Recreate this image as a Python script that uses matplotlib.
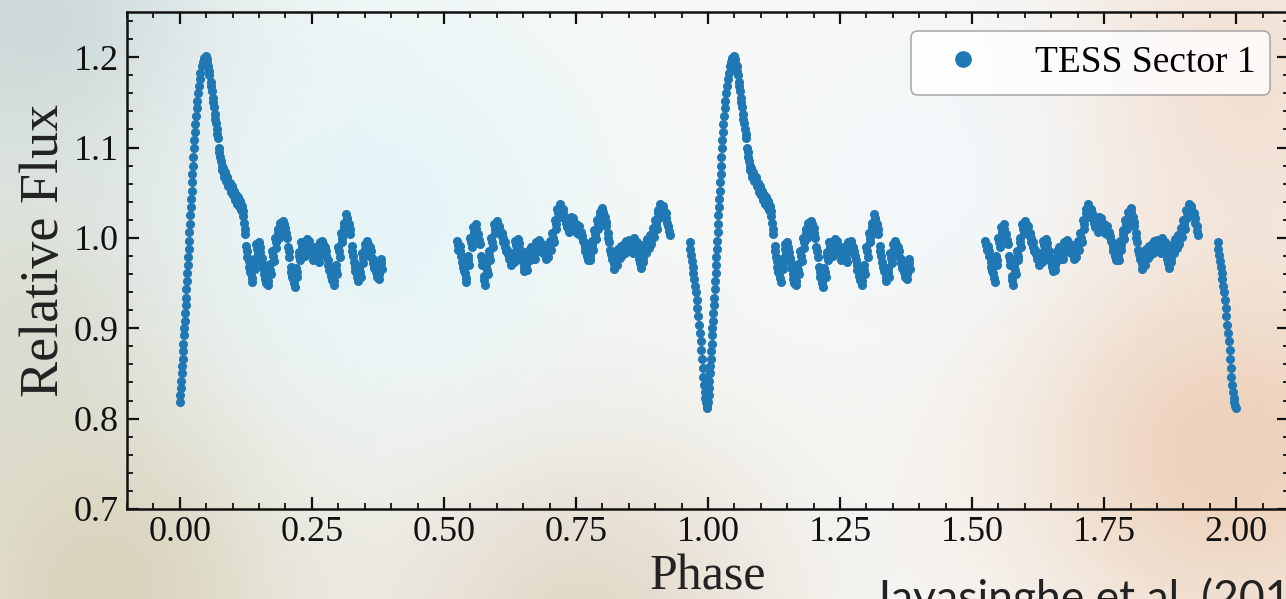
import numpy as np
import matplotlib
matplotlib.use("Agg")
import matplotlib.pyplot as plt
from matplotlib.ticker import MultipleLocator

# ---- one cycle of the folded light curve (repeated at phase + 1) ----
# steep rise out of minimum: individual cadences
rise_phase = [0.0005, 0.0010, 0.0018, 0.0025, 0.0035, 0.0042, 0.0050, 0.0060, 0.0068, 0.0075,
              0.0085, 0.0093, 0.0100, 0.0110, 0.0118, 0.0125, 0.0135, 0.0142, 0.0150, 0.0158,
              0.0165, 0.0175, 0.0182, 0.0190, 0.0198, 0.0206, 0.0214, 0.0222, 0.0230, 0.0238,
              0.0246, 0.0254, 0.0263, 0.0272, 0.0282, 0.0292, 0.0303, 0.0315, 0.0328, 0.0342,
              0.0356, 0.0372, 0.0390, 0.0410, 0.0430, 0.0450]
rise_flux = [0.818, 0.826, 0.834, 0.842, 0.850, 0.858, 0.866, 0.875, 0.883, 0.892,
             0.900, 0.908, 0.917, 0.926, 0.934, 0.943, 0.952, 0.961, 0.970, 0.979,
             0.988, 0.997, 1.006, 1.015, 1.025, 1.034, 1.043, 1.052, 1.062, 1.071,
             1.080, 1.090, 1.099, 1.108, 1.117, 1.126, 1.135, 1.144, 1.152, 1.160,
             1.168, 1.176, 1.183, 1.190, 1.195, 1.199]

# post-peak decline: upper edge, middle and lower edge of the point band
decay_hi_edges = (0.050, 0.126)
decay_mid_edges = (0.051, 0.127)
decay_lo_edges = (0.052, 0.128)
decay_hi = [1.201, 1.190, 1.173, 1.155, 1.137, 1.120, 1.100, 1.085, 1.077, 1.073,
            1.067, 1.061, 1.057, 1.052, 1.048, 1.045, 1.041, 1.035, 1.016, 0.991]
decay_mid = [1.198, 1.185, 1.168, 1.150, 1.132, 1.115, 1.095, 1.080, 1.072, 1.068,
             1.062, 1.056, 1.052, 1.047, 1.043, 1.040, 1.036, 1.030, 1.010, 0.985]
decay_lo = [1.194, 1.180, 1.163, 1.145, 1.127, 1.110, 1.090, 1.075, 1.067, 1.063,
            1.057, 1.051, 1.047, 1.042, 1.038, 1.035, 1.031, 1.024, 1.004, 0.979]

# first quiescent stretch
seg1_hi_edges = (0.13000, 0.38000)
seg1_mid_edges = (0.13125, 0.38125)
seg1_lo_edges = (0.13250, 0.38250)
seg1_hi = [0.974, 0.961, 0.977, 0.993, 0.995, 0.978, 0.960, 0.957, 0.971, 0.985,
           1.000, 1.010, 1.016, 1.019, 1.011, 0.990, 0.968, 0.955, 0.967, 0.984,
           0.995, 0.991, 0.999, 0.996, 0.987, 0.990, 0.984, 0.995, 0.997, 0.990,
           0.975, 0.963, 0.957, 0.970, 0.990, 1.005, 1.017, 1.026, 1.015, 0.991,
           0.973, 0.962, 0.967, 0.983, 0.993, 0.997, 0.990, 0.977, 0.967, 0.965, 0.977]
seg1_mid = [0.968, 0.956, 0.972, 0.988, 0.990, 0.972, 0.955, 0.952, 0.965, 0.980,
            0.995, 1.005, 1.012, 1.015, 1.005, 0.985, 0.962, 0.950, 0.962, 0.980,
            0.990, 0.985, 0.995, 0.990, 0.982, 0.985, 0.978, 0.990, 0.993, 0.985,
            0.970, 0.958, 0.952, 0.965, 0.985, 1.000, 1.012, 1.022, 1.010, 0.985,
            0.968, 0.957, 0.962, 0.978, 0.988, 0.993, 0.985, 0.972, 0.962, 0.960, 0.972]
seg1_lo = [0.962, 0.951, 0.966, 0.982, 0.984, 0.967, 0.950, 0.948, 0.960, 0.974,
           0.989, 1.000, 1.007, 1.010, 1.000, 0.979, 0.957, 0.946, 0.957, 0.975,
           0.984, 0.980, 0.990, 0.985, 0.976, 0.980, 0.973, 0.985, 0.987, 0.980,
           0.964, 0.953, 0.948, 0.960, 0.979, 0.995, 1.006, 1.017, 1.004, 0.980,
           0.963, 0.952, 0.957, 0.972, 0.983, 0.988, 0.979, 0.967, 0.957, 0.955, 0.966]

# second quiescent stretch
seg2_hi_edges = (0.52500, 0.92500)
seg2_mid_edges = (0.52625, 0.92625)
seg2_lo_edges = (0.52750, 0.92750)
seg2_hi = [0.997, 0.991, 0.973, 0.961, 0.980, 1.000, 1.012, 1.015, 1.004, 0.980,
           0.958, 0.970, 0.985, 1.000, 1.015, 1.019, 1.013, 1.005, 0.995, 0.987,
           0.980, 0.983, 0.997, 0.999, 0.986, 0.973, 0.975, 0.985, 0.990, 0.987,
           0.995, 0.998, 0.993, 0.987, 0.989, 0.997, 1.005, 1.020, 1.032, 1.037,
           1.032, 1.022, 1.017, 1.023, 1.022, 1.015, 1.013, 1.007, 0.995, 0.985,
           0.985, 0.997, 1.009, 1.020, 1.029, 1.033, 1.023, 1.005, 0.987, 0.976,
           0.980, 0.988, 0.991, 0.993, 0.997, 0.998, 0.993, 1.000, 0.995, 0.977,
           0.983, 0.993, 0.999, 1.003, 1.011, 1.020, 1.031, 1.037, 1.035, 1.027,
           1.013]
seg2_mid = [0.992, 0.985, 0.968, 0.956, 0.975, 0.995, 1.007, 1.010, 0.998, 0.975,
            0.953, 0.965, 0.980, 0.995, 1.010, 1.015, 1.008, 1.000, 0.990, 0.982,
            0.975, 0.978, 0.992, 0.994, 0.980, 0.968, 0.970, 0.980, 0.985, 0.982,
            0.990, 0.993, 0.988, 0.982, 0.984, 0.992, 1.000, 1.015, 1.028, 1.033,
            1.027, 1.017, 1.012, 1.018, 1.017, 1.010, 1.008, 1.002, 0.990, 0.980,
            0.980, 0.992, 1.004, 1.015, 1.025, 1.029, 1.018, 1.000, 0.982, 0.971,
            0.975, 0.983, 0.986, 0.988, 0.992, 0.993, 0.988, 0.995, 0.990, 0.972,
            0.978, 0.988, 0.994, 0.998, 1.006, 1.015, 1.027, 1.033, 1.030, 1.022,
            1.008]
seg2_lo = [0.987, 0.980, 0.963, 0.951, 0.970, 0.990, 1.002, 1.005, 0.993, 0.970,
           0.948, 0.960, 0.975, 0.990, 1.005, 1.010, 1.003, 0.995, 0.985, 0.977,
           0.970, 0.973, 0.987, 0.989, 0.975, 0.963, 0.965, 0.975, 0.980, 0.977,
           0.985, 0.988, 0.983, 0.977, 0.979, 0.987, 0.995, 1.010, 1.023, 1.028,
           1.022, 1.012, 1.007, 1.013, 1.012, 1.005, 1.003, 0.997, 0.985, 0.975,
           0.975, 0.987, 0.999, 1.010, 1.020, 1.024, 1.013, 0.995, 0.977, 0.966,
           0.970, 0.978, 0.981, 0.983, 0.987, 0.988, 0.983, 0.990, 0.985, 0.967,
           0.973, 0.983, 0.989, 0.993, 1.001, 1.010, 1.022, 1.028, 1.025, 1.017,
           1.003]

# drop into minimum: individual cadences
dip_phase = [0.9650, 0.9665, 0.9680, 0.9695, 0.9710, 0.9725, 0.9740, 0.9755, 0.9770, 0.9785,
             0.9800, 0.9815, 0.9830, 0.9845, 0.9860, 0.9875, 0.9888, 0.9900, 0.9912, 0.9925,
             0.9938, 0.9950, 0.9962, 0.9975, 0.9988]
dip_flux = [0.995, 0.988, 0.981, 0.974, 0.968, 0.961, 0.954, 0.947, 0.940, 0.931,
            0.922, 0.913, 0.904, 0.895, 0.886, 0.876, 0.866, 0.856, 0.846, 0.837,
            0.829, 0.823, 0.818, 0.814, 0.812]

n_cycles = 2
label = "TESS Sector 1"
credit = "Jayasinghe et al. (2019)"


def band(*rows):
    # rows: (edges, values) pairs, each evenly sampled between its edges
    ph = [np.linspace(e[0], e[1], len(v)) for e, v in rows]
    return np.concatenate(ph), np.concatenate([np.asarray(v) for _, v in rows])


def backdrop(fig):
    # soft stand-in for the photo behind the slide
    h, w = 120, 260
    yy, xx = np.mgrid[0:1:h * 1j, 0:1:w * 1j]
    img = np.ones((h, w, 3)) * np.array([0.97, 0.975, 0.97])
    blobs = [
        ((0.03, 0.05), 0.24, (0.80, 0.85, 0.85)),
        ((0.02, 0.55), 0.22, (0.85, 0.87, 0.83)),
        ((0.08, 0.98), 0.25, (0.85, 0.83, 0.74)),
        ((0.45, 1.05), 0.25, (0.89, 0.85, 0.79)),
        ((0.96, 0.75), 0.26, (0.93, 0.82, 0.73)),
        ((0.97, 0.15), 0.22, (0.95, 0.88, 0.83)),
        ((0.30, 0.35), 0.25, (0.90, 0.96, 0.97)),
        ((0.72, 0.30), 0.18, (0.95, 0.97, 0.98)),
    ]
    for (cx, cy), r, col in blobs:
        wgt = np.exp(-(((xx - cx) * 2.15) ** 2 + (yy - cy) ** 2) / (2 * r ** 2))[..., None]
        img = img * (1 - wgt) + np.array(col) * wgt
    bg = fig.add_axes([0, 0, 1, 1], zorder=-10)
    bg.imshow(img, extent=[0, 1, 0, 1], aspect="auto", interpolation="bicubic")
    bg.axis("off")


def main() -> None:
    plt.rcParams["font.family"] = "serif"
    plt.rcParams["font.serif"] = ["Liberation Serif", "DejaVu Serif"]

    pieces = [
        (np.array(rise_phase), np.array(rise_flux)),
        band((decay_hi_edges, decay_hi), (decay_mid_edges, decay_mid), (decay_lo_edges, decay_lo)),
        band((seg1_hi_edges, seg1_hi), (seg1_mid_edges, seg1_mid), (seg1_lo_edges, seg1_lo)),
        band((seg2_hi_edges, seg2_hi), (seg2_mid_edges, seg2_mid), (seg2_lo_edges, seg2_lo)),
        (np.array(dip_phase), np.array(dip_flux)),
    ]
    ph1 = np.concatenate([p for p, _ in pieces])
    fl1 = np.concatenate([f for _, f in pieces])
    phase = np.concatenate([ph1 + k for k in range(n_cycles)])
    flux = np.tile(fl1, n_cycles)

    fig = plt.figure(figsize=(12.86, 5.99), dpi=100)
    backdrop(fig)

    ax = fig.add_axes([0.0988, 0.1503, 0.9035, 0.8297])
    ax.set_facecolor("none")
    ax.plot(phase, flux, "o", ms=5.5, color="#1f77b4", lw=0, label=label)

    ax.set_xlim(-0.1, 2.1)
    ax.set_ylim(0.7, 1.25)
    ax.xaxis.set_major_locator(MultipleLocator(0.25))
    ax.xaxis.set_minor_locator(MultipleLocator(0.05))
    ax.yaxis.set_major_locator(MultipleLocator(0.1))
    ax.yaxis.set_minor_locator(MultipleLocator(0.02))
    ax.xaxis.set_major_formatter(plt.FormatStrFormatter("%.2f"))
    ax.yaxis.set_major_formatter(plt.FormatStrFormatter("%.1f"))

    ax.tick_params(which="both", direction="in", top=True, right=True, colors="#111111")
    ax.tick_params(which="major", length=8.5, width=1.6, labelsize=26)
    ax.tick_params(which="minor", length=4.5, width=1.3)
    ax.tick_params(axis="x", which="major", pad=5)
    ax.tick_params(axis="y", which="major", pad=6)
    for sp in ax.spines.values():
        sp.set_linewidth(1.8)
        sp.set_color("#111111")

    ax.set_xlabel("Phase", fontsize=36, labelpad=3.5, color="#222222")
    ax.set_ylabel("Relative Flux", fontsize=39, color="#222222")
    ax.yaxis.set_label_coords(-0.049, 0.52)

    leg = ax.legend(loc="upper right", fontsize=27, markerscale=2.0, fancybox=True,
                    framealpha=0.8, edgecolor="0.6", handletextpad=0.9)
    leg.get_frame().set_linewidth(1.2)

    # slide citation, cropped by the slide edge as in the original
    fig.text(0.678, -0.022, credit, fontsize=32, family=["Lato", "DejaVu Sans"],
             color="#222222", ha="left", va="baseline")

    fig.savefig("out.png", dpi=100)
    plt.close(fig)


if __name__ == "__main__":
    main()
